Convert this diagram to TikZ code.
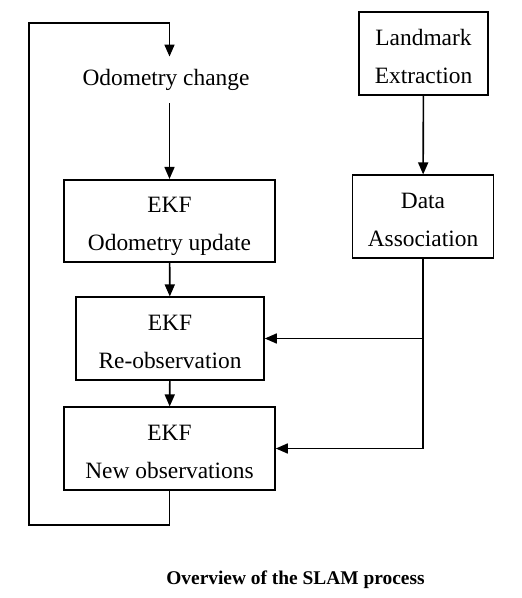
\documentclass[tikz,border=0pt]{standalone}
\usepackage{fontspec}
\setmainfont{Liberation Serif}
\usetikzlibrary{arrows.meta}

\begin{document}
\begin{tikzpicture}[x=0.5pt,y=-0.5pt,line width=0.8pt,
    stepbox/.style={draw,align=center,inner sep=0pt,text height=35.5pt,text depth=5.75pt,font=\fontsize{11.7}{19}\selectfont},
    flow/.style={-{Triangle[length=6pt,width=5pt]}}]
          \useasboundingbox (0,0) rectangle (522,598);
          \node[font=\fontsize{11.7}{14}\selectfont,inner sep=6pt] (Odo) at (166,80) {Odometry change};
          \node[stepbox,minimum width=105.5pt] (EkfOdo) at (169.5,221) {EKF\\Odometry update};
          \node[stepbox,minimum width=94pt] (EkfRe) at (170,338.5) {EKF\\Re-observation};
          \node[stepbox,minimum width=105.5pt] (EkfNew) at (169.5,448.5) {EKF\\New observations};
          \node[stepbox,minimum width=64.5pt] (Land) at (423.5,53.5) {Landmark\\Extraction};
          \node[stepbox,minimum width=70.5pt] (Assoc) at (423,216.5) {Data\\Association};
          \node[font=\bfseries\fontsize{9.7}{12}\selectfont] (Cap) at (295.5,580) {Overview of the SLAM process};
          \coordinate (LoopB) at (29,525);
          \coordinate (LoopT) at (29,23);
          % loop back to the odometry step
          \draw[flow] (EkfNew.south) -- (EkfNew.south |- LoopB) -- (LoopB) -- (LoopT) -- (LoopT -| EkfOdo.north) -- (EkfOdo.north |- Odo.north);
          \draw[flow] (EkfOdo.north |- Odo.south) -- (EkfOdo.north);
          \draw[flow] (EkfOdo) -- (EkfRe);
          \draw[flow] (EkfRe) -- (EkfNew);
          \draw[flow] (Land) -- (Assoc);
          \draw[flow] (Assoc.south) |- (EkfNew.east);
          \draw[flow] (Assoc.south |- EkfRe.east) -- (EkfRe.east);
        \end{tikzpicture}
\end{document}
